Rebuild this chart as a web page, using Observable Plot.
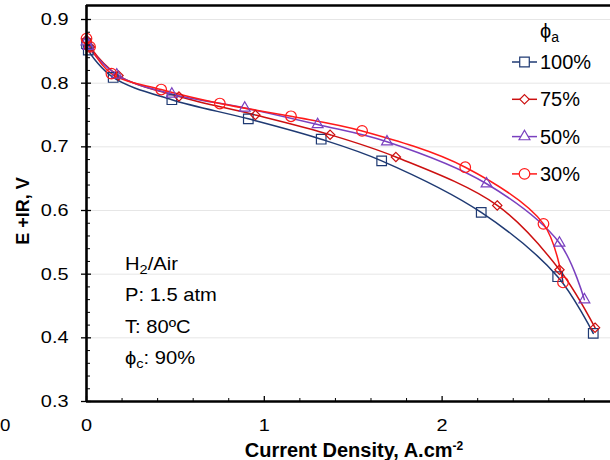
<!DOCTYPE html>
<html><head><meta charset="utf-8">
<script src="https://cdn.jsdelivr.net/npm/d3@7"></script>
<script src="https://cdn.jsdelivr.net/npm/@observablehq/plot@0.6"></script>
<style>
html,body{margin:0;padding:0;background:#fff;}
#chart{position:relative;width:610px;height:460px;}
</style></head><body><div id="chart"></div>
<script>
// ---- data ----
const seriesNames = ["100%", "75%", "50%", "30%"];
const x100 = [0, 0.01, 0.15, 0.48, 0.91, 1.32, 1.66, 2.22, 2.65, 2.85];
const y100 = [0.862, 0.852, 0.809, 0.774, 0.744, 0.712, 0.678, 0.597, 0.496, 0.407];
const x75 = [0, 0.02, 0.18, 0.52, 0.95, 1.37, 1.74, 2.31, 2.66, 2.86];
const y75 = [0.868, 0.857, 0.812, 0.779, 0.750, 0.719, 0.684, 0.608, 0.507, 0.416];
const x50 = [0, 0.01, 0.17, 0.48, 0.89, 1.30, 1.69, 2.25, 2.66, 2.80];
const y50 = [0.865, 0.858, 0.813, 0.783, 0.761, 0.735, 0.708, 0.642, 0.549, 0.460];
const x30 = [0, 0.02, 0.14, 0.42, 0.75, 1.15, 1.55, 2.13, 2.57, 2.68];
const y30 = [0.870, 0.857, 0.815, 0.790, 0.768, 0.748, 0.725, 0.668, 0.579, 0.487];
const yTicks = [0.3, 0.4, 0.5, 0.6, 0.7, 0.8, 0.9];
const yMinor = d3.range(15, 46).map(v => v / 50).filter(v => Math.round(v * 50) % 5 !== 0);
const xTicks = [0, 1, 2];
const xMinor = d3.range(1, 15).map(v => v / 5).filter(v => v % 1 !== 0);
const seriesColors = ["#1f3a73", "#cc1010", "#7a40bf", "#ff1a1a"];
const seriesSymbols = ["square", "diamond2", "triangle2", "circle"];
const markerRadius = [5.4, 4.2, 5.2, 5.3];
const legendTitle = ["ϕ", "a"];
const notes = [["H", "2", "/Air"], ["P: 1.5 atm"], ["T: 80ºC"], ["ϕ", "c", ": 90%"]];

const xs = [x100, x75, x50, x30], ys = [y100, y75, y50, y30];
const data = seriesNames.flatMap((s, k) => xs[k].map((x, i) => ({series: s, x, y: ys[k][i]})));

const font = "'Liberation Sans', Arial, sans-serif";
const plot = Plot.plot({
  width: 610, height: 460,
  marginLeft: 86, marginRight: 0, marginTop: 5, marginBottom: 59,
  x: {domain: [0, 2.947]},
  y: {domain: [0.3, 0.922]},
  color: {domain: seriesNames, range: seriesColors},
  symbol: {domain: seriesNames, range: seriesSymbols},
  style: {fontFamily: font, fontSize: "17px", color: "#000", background: "#fff", overflow: "visible"},
  marks: [
    Plot.gridY(yTicks.slice(1), {stroke: "#e6e6e6", strokeOpacity: 1, strokeWidth: 1}),
    Plot.line(data, {x: "x", y: "y", z: "series", stroke: "series", curve: "catmull-rom", strokeWidth: 1.5}),
    ...seriesNames.map((s, k) => Plot.dot(data.filter(d => d.series === s),
      {x: "x", y: "y", symbol: "series", stroke: "series", fill: "none", r: markerRadius[k], strokeWidth: 1.2})),
    // axes
    Plot.axisY(yTicks, {tickSize: 5, tickPadding: 13, tickFormat: d => d.toFixed(1), label: null, strokeWidth: 1.3}),
    Plot.axisY(yTicks, {tickSize: -5, tickFormat: () => "", label: null, strokeWidth: 1.3}),
    Plot.axisY(yMinor, {tickSize: -4, tickFormat: () => "", label: null, strokeWidth: 1}),
    Plot.axisX(xTicks, {tickSize: 0, tickPadding: 17, tickFormat: d => String(d), label: null}),
    Plot.axisX(xTicks, {tickSize: -5, tickFormat: () => "", label: null, strokeWidth: 1.3}),
    Plot.axisX(xMinor, {tickSize: -3, tickFormat: () => "", label: null, strokeWidth: 1}),
    Plot.ruleY([0.3], {strokeWidth: 2.6}),
    Plot.ruleY([0.922], {strokeWidth: 2.6}),
    Plot.ruleX([0], {strokeWidth: 2.6})
  ]
});

const svg = d3.select(plot);
// stretch tick labels horizontally like the reference
svg.selectAll("[aria-label='y-axis tick label'] text, [aria-label='x-axis tick label'] text").each(function() {
  const t = this.getAttribute("transform") || "";
  this.setAttribute("transform", t + " scale(1.17,1)");
});

// axis titles
svg.append("text").attr("transform", "translate(354,457)").attr("text-anchor", "middle")
  .attr("font-family", font).attr("font-weight", "bold").attr("font-size", 20)
  .call(t => { t.append("tspan").text("Current Density, A.cm"); t.append("tspan").attr("dy", -7).attr("font-size", 12).text("-2"); });
svg.append("text").attr("transform", "translate(29,211) rotate(-90)").attr("text-anchor", "middle")
  .attr("font-family", font).attr("font-weight", "bold").attr("font-size", 18).text("E +IR, V");
// stray label in the reference
svg.append("text").attr("transform", "translate(0,431) scale(1.1,1)").attr("text-anchor", "start")
  .attr("font-family", font).attr("font-size", 17).text("0");

// legend
const lg = svg.append("g").attr("font-family", font).attr("text-anchor", "start");
lg.append("text").attr("transform", "translate(540,38)").attr("font-size", 20)
  .call(t => { t.append("tspan").text(legendTitle[0]); t.append("tspan").attr("dy", 4).attr("font-size", 14).text(legendTitle[1]); });
seriesNames.forEach((s, i) => {
  const yy = 62 + i * 37.3;
  lg.append("line").attr("x1", 512).attr("x2", 537).attr("y1", yy).attr("y2", yy).attr("stroke", seriesColors[i]).attr("stroke-width", 1.5);
  const sym = {square: d3.symbolSquare, diamond2: d3.symbolDiamond2, triangle2: d3.symbolTriangle2, circle: d3.symbolCircle}[seriesSymbols[i]];
  lg.append("path").attr("transform", `translate(524.5,${yy})`).attr("d", d3.symbol(sym, Math.PI * markerRadius[i] ** 2)())
    .attr("fill", "#fff").attr("stroke", seriesColors[i]).attr("stroke-width", 1.2);
  lg.append("text").attr("transform", `translate(540,${yy + 7})`).attr("font-size", 20).text(s);
});

// condition notes
const ng = svg.append("g").attr("font-family", font).attr("font-size", 18).attr("text-anchor", "start");
notes.forEach((parts, i) => {
  const t = ng.append("text").attr("transform", `translate(125,${270 + i * 31.3}) scale(1.12,1)`);
  t.append("tspan").text(parts[0]);
  if (parts.length > 1) {
    t.append("tspan").attr("dy", 4).attr("font-size", 13).text(parts[1]);
    t.append("tspan").attr("dy", -4).text(parts[2]);
  }
});

document.getElementById("chart").appendChild(plot);
</script></body></html>
